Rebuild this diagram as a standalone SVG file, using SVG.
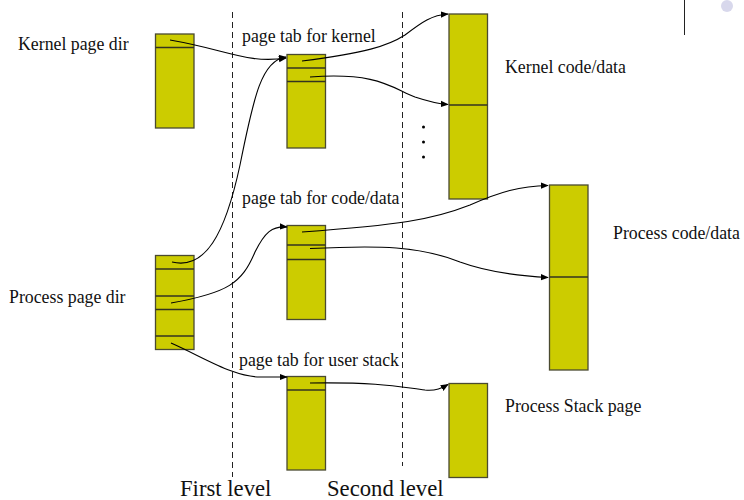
<svg xmlns="http://www.w3.org/2000/svg" width="744" height="500" viewBox="0 0 744 500">
  <defs>
    <marker id="arrow" viewBox="0 0 10 10" refX="9" refY="5" markerWidth="8" markerHeight="8" markerUnits="userSpaceOnUse" orient="auto">
      <path d="M0,1 L10,5 L0,9 z" fill="#000"/>
    </marker>
  </defs>
  <style>
    .page { fill: #cccc00; stroke: #4a4a30; stroke-width: 1.3; }
    .div { stroke: #333320; stroke-width: 1.3; }
    .lbl { font-family: "Liberation Serif", "Times New Roman", serif; font-size: 17.8px; fill: #111; }
    .lvl { font-family: "Liberation Serif", "Times New Roman", serif; font-size: 22.7px; fill: #111; }
    .guide { stroke: #222; stroke-width: 1; stroke-dasharray: 6 4; fill: none; }
    .link { fill: none; stroke: #000; stroke-width: 1.1; marker-end: url(#arrow); }
  </style>

  <rect width="744" height="500" fill="#fff"/>

  <!-- slide decoration -->
  <line x1="684.5" y1="0" x2="684.5" y2="35" stroke="#222" stroke-width="1"/>
  <circle cx="727" cy="6" r="6" fill="#d8d8ec"/>

  <!-- level separators -->
  <g id="levels">
    <line class="guide" x1="232.5" y1="12" x2="232.5" y2="477"/>
    <line class="guide" x1="402.5" y1="12" x2="402.5" y2="466"/>
    <text class="lvl" x="180" y="496">First level</text>
    <text class="lvl" x="327" y="496">Second level</text>
  </g>

  <g id="kernel-page-dir">
    <text class="lbl" x="18" y="50">Kernel page dir</text>
    <rect class="page" x="155.5" y="34" width="38.5" height="94"/>
    <line class="div" x1="155.5" y1="47.5" x2="194" y2="47.5"/>
  </g>

  <g id="process-page-dir">
    <text class="lbl" x="9" y="303">Process page dir</text>
    <rect class="page" x="155.5" y="255.5" width="38.5" height="94"/>
    <line class="div" x1="155.5" y1="269" x2="194" y2="269"/>
    <line class="div" x1="155.5" y1="296" x2="194" y2="296"/>
    <line class="div" x1="155.5" y1="309.5" x2="194" y2="309.5"/>
    <line class="div" x1="155.5" y1="336" x2="194" y2="336"/>
  </g>

  <g id="kernel-page-table">
    <text class="lbl" x="242" y="42">page tab for kernel</text>
    <rect class="page" x="287" y="54.5" width="38.5" height="93.5"/>
    <line class="div" x1="287" y1="68" x2="325.5" y2="68"/>
    <line class="div" x1="287" y1="81.5" x2="325.5" y2="81.5"/>
  </g>

  <g id="code-page-table">
    <text class="lbl" x="242" y="204">page tab for code/data</text>
    <rect class="page" x="287" y="225.5" width="38.5" height="94"/>
    <line class="div" x1="287" y1="245" x2="325.5" y2="245"/>
    <line class="div" x1="287" y1="259.5" x2="325.5" y2="259.5"/>
  </g>

  <g id="stack-page-table">
    <text class="lbl" x="239" y="366">page tab for user stack</text>
    <rect class="page" x="287" y="376.5" width="38.5" height="93.5"/>
    <line class="div" x1="287" y1="390" x2="325.5" y2="390"/>
  </g>

  <g id="kernel-code-data">
    <text class="lbl" x="505" y="72.5">Kernel code/data</text>
    <rect class="page" x="449" y="14" width="38.5" height="185"/>
    <line class="div" x1="449" y1="105" x2="487.5" y2="105"/>
    <circle cx="423.5" cy="127" r="1.5" fill="#000"/>
    <circle cx="423.5" cy="142" r="1.5" fill="#000"/>
    <circle cx="423.5" cy="157" r="1.5" fill="#000"/>
  </g>

  <g id="process-code-data">
    <text class="lbl" x="613" y="239">Process code/data</text>
    <rect class="page" x="549.5" y="185" width="38.5" height="185"/>
    <line class="div" x1="549.5" y1="277" x2="588" y2="277"/>
  </g>

  <g id="process-stack-page">
    <text class="lbl" x="505" y="412">Process Stack page</text>
    <rect class="page" x="449" y="383.5" width="38.5" height="94"/>
  </g>

  <g id="connectors">
    <path class="link" d="M170,40 C228,50 248,64 286,58"/>
    <path class="link" d="M172,262 C205,270 225,235 240,165 C254,95 262,60 286,57"/>
    <path class="link" d="M302,61 C365,53 388,46 405,35 C422,22 432,15 448,14"/>
    <path class="link" d="M310,77 C378,72 392,88 415,97 C430,102 440,104 448,104.5"/>
    <path class="link" d="M171,303 C228,293 242,283 255,252 C265,232 272,226 287,227"/>
    <path class="link" d="M302,232 C398,225 432,220 470,205 C500,192 520,186 548,185.5"/>
    <path class="link" d="M310,248.5 C380,245 420,246 460,262 C490,273 520,276 548,277.5"/>
    <path class="link" d="M171,343 C205,358 235,378 262,377 L287,377"/>
    <path class="link" d="M310,383 C380,382 400,387 425,390 C436,391 442,388 448,384.5"/>
  </g>
</svg>
